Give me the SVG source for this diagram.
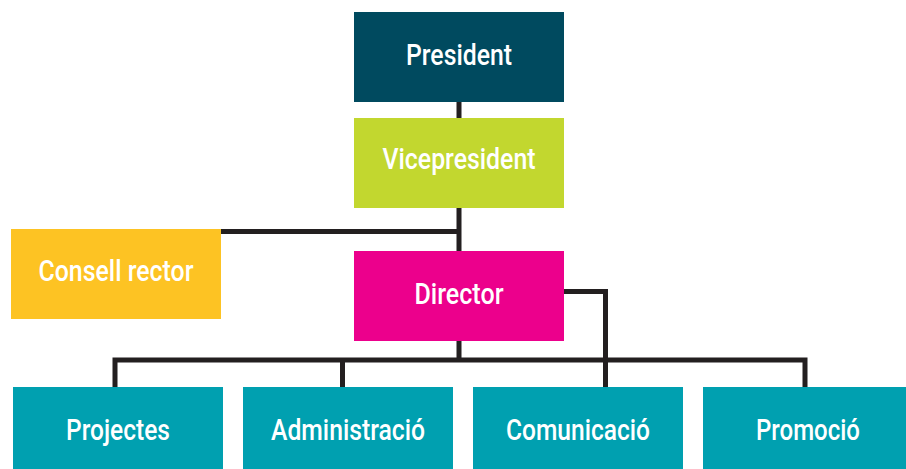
<svg xmlns="http://www.w3.org/2000/svg" width="906" height="469" viewBox="0 0 906 469">
<style>
.t{font-family:Roboto,"Liberation Sans",sans-serif;font-size:29px;font-weight:500;fill:#ffffff;text-anchor:middle}
.c{fill:none;stroke:#231f20;stroke-width:5}
.bot{fill:#00a0b0}
</style>
<rect width="906" height="469" fill="#ffffff"/>
<g id="connectors">
<path class="c" d="M459 102V360"/>
<path class="c" d="M221 231.5H459"/>
<path class="c" d="M564 291.5H605.5V387"/>
<path class="c" d="M115 387V360H805V387"/>
<path class="c" d="M342.5 360V387"/>
</g>
<g id="president"><rect x="354" y="12" width="210" height="90" fill="#004a5f"/><text class="t" x="459" y="65" textLength="106" lengthAdjust="spacingAndGlyphs">President</text></g>
<g id="vicepresident"><rect x="354" y="118" width="210" height="90" fill="#c2d72f"/><text class="t" x="459" y="168.5" textLength="153" lengthAdjust="spacingAndGlyphs">Vicepresident</text></g>
<g id="consell"><rect x="11" y="229" width="210" height="90" fill="#fdc323"/><text class="t" x="116" y="281" textLength="155" lengthAdjust="spacingAndGlyphs">Consell rector</text></g>
<g id="director"><rect x="354" y="251" width="210" height="90" fill="#ec008c"/><text class="t" x="459" y="304" textLength="89" lengthAdjust="spacingAndGlyphs">Director</text></g>
<g id="projectes"><rect class="bot" x="13" y="387" width="210" height="90"/><text class="t" x="118" y="439.5" textLength="104" lengthAdjust="spacingAndGlyphs">Projectes</text></g>
<g id="administracio"><rect class="bot" x="243" y="387" width="210" height="90"/><text class="t" x="348" y="439.5" textLength="154" lengthAdjust="spacingAndGlyphs">Administració</text></g>
<g id="comunicacio"><rect class="bot" x="473" y="387" width="210" height="90"/><text class="t" x="578" y="439.5" textLength="144" lengthAdjust="spacingAndGlyphs">Comunicació</text></g>
<g id="promocio"><rect class="bot" x="703" y="387" width="210" height="90"/><text class="t" x="808" y="439.5" textLength="104" lengthAdjust="spacingAndGlyphs">Promoció</text></g>
</svg>
